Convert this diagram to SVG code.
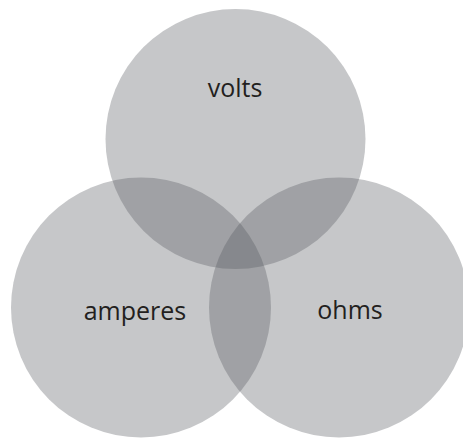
<svg xmlns="http://www.w3.org/2000/svg" width="463" height="438" viewBox="0 0 463 438">
<style>
.c{fill:#54575d;fill-opacity:0.333}
.t{font-family:"Open Sans","Liberation Sans",sans-serif;font-size:25px;fill:#231f20;text-anchor:middle}
</style>
<rect width="463" height="438" fill="#fff"/>
<g id="volts"><circle class="c" cx="235.5" cy="139" r="130"/><text class="t" x="235" y="97">volts</text></g>
<g id="amperes"><circle class="c" cx="141" cy="307.5" r="130"/><text class="t" x="135" y="320">amperes</text></g>
<g id="ohms"><circle class="c" cx="339" cy="307.5" r="130"/><text class="t" x="350" y="319">ohms</text></g>
<g id="connectors"/>
</svg>
